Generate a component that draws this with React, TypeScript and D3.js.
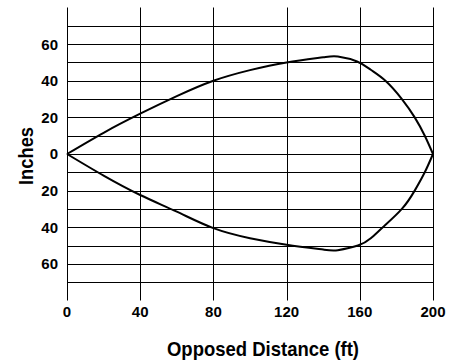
import React, { useEffect, useRef } from 'react';
import * as d3 from 'd3';

// upper half of the pattern (distance ft, inches)
const upperDist = [0, 20, 40, 60, 80, 100, 120, 140, 148, 158.5, 166, 174, 183, 190, 195.5, 200];
const upperInch = [0, 11.6, 22, 31.6, 40, 45.8, 50, 52.8, 53.2, 50.5, 46, 40, 30, 20, 10, 0];
// lower half
const lowerDist = [0, 20, 40, 60, 80, 100, 120, 140, 148, 159, 166, 172.6, 183, 190, 195.5, 200];
const lowerInch = [0, -11.8, -22.4, -31.5, -40.5, -46, -49.5, -52.2, -52.5, -50, -46, -40, -30, -20, -10, 0];

const xTicks = [0, 40, 80, 120, 160, 200];
const yTicks = [60, 40, 20, 0, -20, -40, -60];
const yGrid = [70, 60, 50, 40, 30, 20, 10, 0, -10, -20, -30, -40, -50, -60, -70];

const App: React.FC = () => {
    const ref = useRef<SVGSVGElement | null>(null);

    useEffect(() => {
        if (!ref.current) return;
        const width = 449;
        const height = 364;

        const svg = d3.select(ref.current);
        svg.selectAll('*').remove();

        const x = d3.scaleLinear().domain([0, 200]).range([67, 433]);
        const y = d3.scaleLinear().domain([-80, 80]).range([300.5, 7.5]);

        svg.append('rect').attr('width', width).attr('height', height).attr('fill', '#fff');

        // horizontal grid
        svg.append('g')
            .selectAll('line')
            .data(yGrid)
            .join('line')
            .attr('x1', x(0))
            .attr('x2', x(200))
            .attr('y1', d => Math.round(y(d)) + 0.5)
            .attr('y2', d => Math.round(y(d)) + 0.5)
            .attr('stroke', '#000')
            .attr('stroke-width', 1);

        // vertical grid
        svg.append('g')
            .selectAll('line')
            .data(xTicks)
            .join('line')
            .attr('x1', d => Math.round(x(d)) + 0.5)
            .attr('x2', d => Math.round(x(d)) + 0.5)
            .attr('y1', y(80))
            .attr('y2', y(-80))
            .attr('stroke', '#000')
            .attr('stroke-width', 1);

        const font = 'Liberation Sans, Arial, sans-serif';

        // x tick labels
        svg.append('g')
            .selectAll('text')
            .data(xTicks)
            .join('text')
            .attr('x', d => x(d))
            .attr('y', 317)
            .attr('text-anchor', 'middle')
            .attr('font-family', font)
            .attr('font-weight', 'bold')
            .attr('font-size', '15px')
            .text(d => d);

        // y tick labels
        svg.append('g')
            .selectAll('text')
            .data(yTicks)
            .join('text')
            .attr('x', 58)
            .attr('y', d => y(d) + 5.4)
            .attr('text-anchor', 'end')
            .attr('font-family', font)
            .attr('font-weight', 'bold')
            .attr('font-size', '15px')
            .text(d => Math.abs(d));

        const line = d3.line<[number, number]>()
            .x(d => x(d[0]))
            .y(d => y(d[1]))
            .curve(d3.curveNatural);

        const upper = upperDist.map((d, i) => [d, upperInch[i]] as [number, number]);
        const lower = lowerDist.map((d, i) => [d, lowerInch[i]] as [number, number]);

        svg.append('g')
            .selectAll('path')
            .data([upper, lower])
            .join('path')
            .attr('d', d => line(d))
            .attr('fill', 'none')
            .attr('stroke', '#000')
            .attr('stroke-width', 2);

        // axis titles (condensed bold look)
        svg.append('text')
            .attr('x', 263)
            .attr('y', 356)
            .attr('text-anchor', 'middle')
            .attr('font-family', font)
            .attr('font-weight', 'bold')
            .attr('font-size', '21px')
            .attr('textLength', 192)
            .attr('lengthAdjust', 'spacingAndGlyphs')
            .text('Opposed Distance (ft)');

        svg.append('text')
            .attr('transform', 'translate(33,156) rotate(-90)')
            .attr('text-anchor', 'middle')
            .attr('font-family', font)
            .attr('font-weight', 'bold')
            .attr('font-size', '21px')
            .attr('textLength', 58)
            .attr('lengthAdjust', 'spacingAndGlyphs')
            .text('Inches');
    }, []);

    return (
        <svg
            ref={ref}
            width={449}
            height={364}
            style={{ position: 'absolute', left: 0, top: 0, display: 'block' }}
        />
    );
};

export default App;
